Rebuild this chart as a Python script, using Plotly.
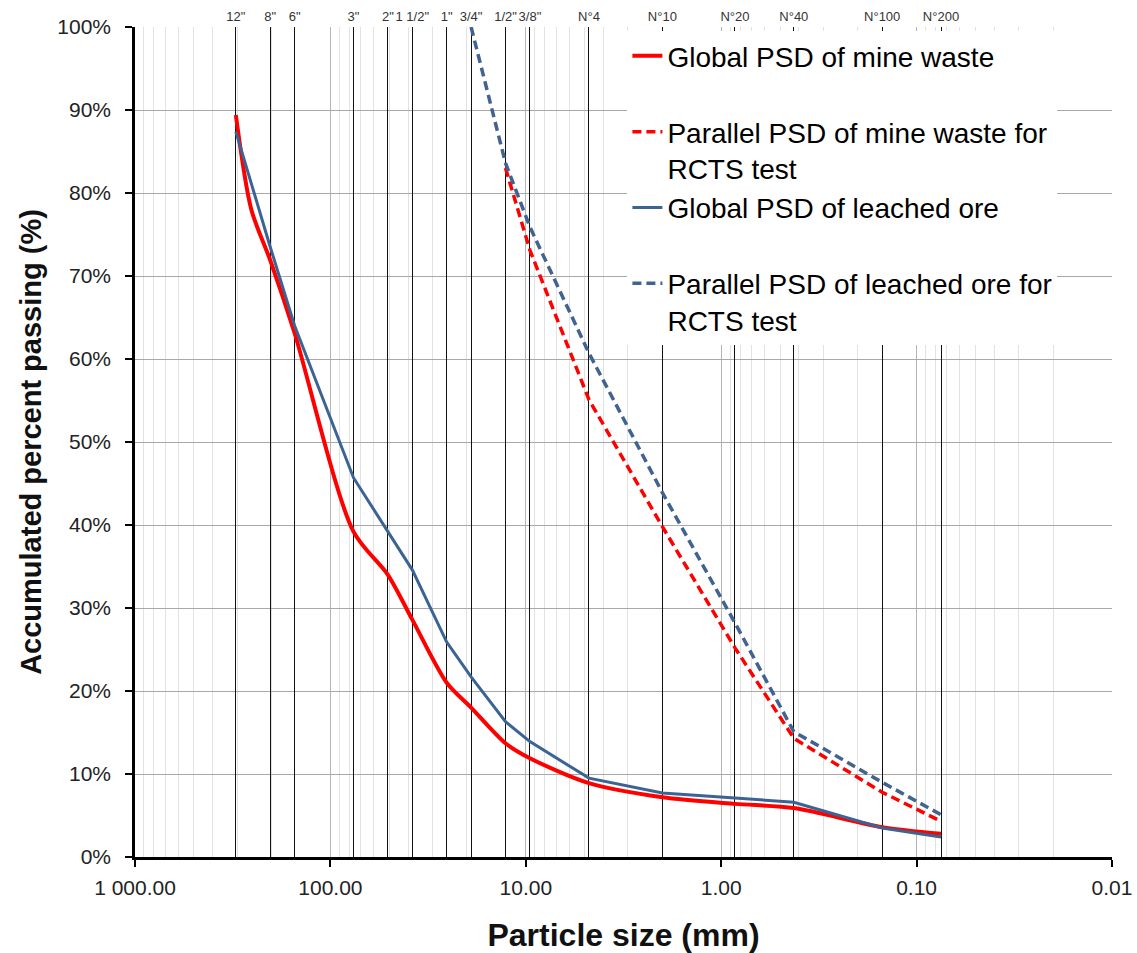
import plotly.graph_objects as go

# ---- data ----
sieve_mm = [304.8, 203.2, 152.4, 76.2, 50.8, 38.1, 25.4, 19.05, 12.7, 9.525, 4.75, 2.0, 0.85, 0.425, 0.15, 0.075]
sieve_labels = ['12"', '8"', '6"', '3"', '2"', '1 1/2"', '1"', '3/4"', '1/2"', '3/8"',
                'N°4', 'N°10', 'N°20', 'N°40', 'N°100', 'N°200']

mine_x = [304.8, 254.0, 203.2, 152.4, 76.2, 50.8, 38.1, 25.4, 19.05, 12.7, 9.525, 4.75, 2.0, 0.85, 0.425, 0.15, 0.075]
mine_y = [89.4, 78.0, 71.9, 63.1, 39.2, 34.0, 28.6, 21.0, 18.0, 13.7, 11.9, 8.9, 7.2, 6.4, 5.9, 3.6, 2.8]

ore_x = [304.8, 203.2, 152.4, 76.2, 50.8, 38.1, 25.4, 19.05, 12.7, 9.525, 4.75, 2.0, 0.85, 0.425, 0.15, 0.075]
ore_y = [87.4, 73.5, 64.0, 45.7, 39.2, 34.6, 25.9, 21.7, 16.3, 13.9, 9.5, 7.7, 7.1, 6.6, 3.5, 2.4]

mine_par_x = [12.7, 9.525, 4.75, 2.0, 0.85, 0.425, 0.15, 0.075]
mine_par_y = [83.0, 73.1, 55.1, 39.8, 25.2, 14.3, 7.8, 4.3]

ore_par_x = [19.05, 12.7, 9.525, 4.75, 2.0, 0.85, 0.425, 0.15, 0.075]
ore_par_y = [100.0, 83.6, 75.9, 60.7, 43.9, 28.2, 15.1, 9.0, 5.1]

x_tickvals = [1000, 100, 10, 1, 0.1, 0.01]
x_ticktext = ['1 000.00', '100.00', '10.00', '1.00', '0.10', '0.01']
minor_vals = [m * d for d in [0.01, 0.1, 1, 10, 100] for m in range(2, 10)]

FONT = 'Liberation Sans, Arial, sans-serif'
RED = '#FF0000'
BLUE = '#3B6494'
BLUE_D = '#42638F'

fig = go.Figure()
fig.add_trace(go.Scatter(x=mine_x, y=mine_y, mode='lines', name='Global PSD of mine waste<br> ',
                         line=dict(color=RED, width=4, shape='spline', smoothing=0.8), legendgroup='a'))
fig.add_trace(go.Scatter(x=mine_par_x, y=mine_par_y, mode='lines', name='Parallel PSD of mine waste for<br>RCTS test',
                         line=dict(color=RED, width=3.5, dash='9px,5px'), legendgroup='b'))
fig.add_trace(go.Scatter(x=ore_x, y=ore_y, mode='lines', name='Global PSD of leached ore<br> ',
                         line=dict(color=BLUE, width=3), legendgroup='c'))
fig.add_trace(go.Scatter(x=ore_par_x, y=ore_par_y, mode='lines', name='Parallel PSD of leached ore for<br>RCTS test',
                         line=dict(color=BLUE_D, width=3.5, dash='9px,5px'), legendgroup='d'))
# helper trace to carry the top sieve axis
fig.add_trace(go.Scatter(x=sieve_mm, y=[None] * len(sieve_mm), xaxis='x2', mode='lines',
                         showlegend=False, hoverinfo='skip'))

fig.update_layout(
    width=1137, height=953,
    margin=dict(l=135, r=25, t=27, b=96, autoexpand=False),
    paper_bgcolor='white', plot_bgcolor='white',
    font=dict(family=FONT, color='#222'),
    showlegend=True,
    legend=dict(x=0.504, y=0.995, xanchor='left', yanchor='top', bgcolor='white',
                font=dict(size=28, color='black', family=FONT), valign='top',
                tracegroupgap=0, borderwidth=0),
    xaxis=dict(type='log', range=[3, -2], tickvals=x_tickvals, ticktext=x_ticktext,
               showgrid=True, gridcolor='#b4b4b4', gridwidth=1,
               minor=dict(tickvals=minor_vals, showgrid=True, gridcolor='#e2e2e2', gridwidth=1, ticks=''),
               showline=True, linecolor='black', linewidth=2.5, automargin=False,
               ticks='outside', ticklen=7, tickwidth=2, tickcolor='black', ticklabelstandoff=3,
               tickfont=dict(size=21, color='#222'), zeroline=False,
               title=dict(text='Particle size (mm)', font=dict(size=32, color='#111', weight='bold'), standoff=28)),
    xaxis2=dict(type='log', range=[3, -2], overlaying='x', side='top', anchor='y',
                tickvals=sieve_mm, ticktext=sieve_labels, showgrid=True, gridcolor='#111', gridwidth=1.2,
                ticks='', tickangle=0, automargin=False, ticklabelstandoff=2,
                tickfont=dict(size=13, color='#333'), showline=False, zeroline=False),
    yaxis=dict(range=[0, 100], dtick=10, ticksuffix='%', showgrid=True, gridcolor='#a8a8a8', gridwidth=1,
               showline=True, linecolor='black', linewidth=2.5, mirror=False, automargin=False,
               ticks='outside', ticklen=7, tickwidth=2, tickcolor='black', ticklabelstandoff=10,
               tickfont=dict(size=21, color='#222'), zeroline=False,
               title=dict(text='Accumulated percent passing (%)', font=dict(size=29, color='#111', weight='bold'), standoff=8)),
)

fig.write_html('out.html')
